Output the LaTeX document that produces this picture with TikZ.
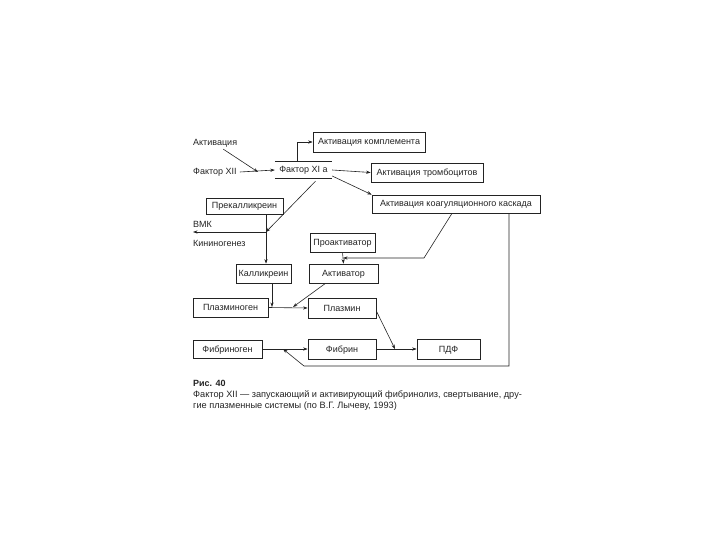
\documentclass[tikz,border=0pt]{standalone}
\usepackage{fontspec}
\setmainfont{Liberation Sans}
\usetikzlibrary{arrows.meta}
\definecolor{ink}{RGB}{35,35,35}
\begin{document}
\begin{tikzpicture}[x=1pt,y=-1pt,
  box/.style={draw=ink,line width=0.7pt,inner sep=0pt,text height=6pt,text depth=0pt,font=\fontsize{9}{10}\selectfont,text=ink},
  lbl/.style={inner sep=0pt,text height=6pt,text depth=0pt,font=\fontsize{9}{10}\selectfont,text=ink},
  con/.style={draw=ink,line width=0.6pt,-{Stealth[length=4.5pt,width=3.2pt]}},
  ln/.style={draw=ink,line width=0.6pt}]
\useasboundingbox (0,0) rectangle (720,540);
% nodes
\node[lbl,anchor=west] (akt) at (193,143) {Активация};
\node[lbl,anchor=west] (f12) at (193,172) {Фактор XII};
\node[lbl,minimum width=57pt,minimum height=16pt] (xia) at (303.5,170) {Фактор XI а};
\draw[ink,line width=0.7pt] (xia.north west) -- (xia.north east) (xia.south west) -- (xia.south east);
\node[box,minimum width=112pt,minimum height=20pt] (kompl) at (369,142) {Активация комплемента};
\node[box,minimum width=112pt,minimum height=19pt] (tromb) at (427,172.5) {Активация тромбоцитов};
\node[box,minimum width=168pt,minimum height=18pt] (kask) at (456,204) {Активация коагуляционного каскада};
\node[box,minimum width=77pt,minimum height=16pt] (prek) at (244.5,206) {Прекалликреин};
\node[lbl,anchor=west] (vmk) at (193,225) {ВМК};
\node[lbl,anchor=west] (kin) at (193,244) {Кининогенез};
\node[box,minimum width=65pt,minimum height=19pt] (proakt) at (342.5,242.5) {Проактиватор};
\node[box,minimum width=55pt,minimum height=19pt] (kall) at (263.5,273.5) {Калликреин};
\node[box,minimum width=69pt,minimum height=19pt] (aktv) at (343.5,273.5) {Активатор};
\node[box,minimum width=75pt,minimum height=19pt] (plg) at (230.5,307.5) {Плазминоген};
\node[box,minimum width=68pt,minimum height=20pt] (pl) at (342,308) {Плазмин};
\node[box,minimum width=69pt,minimum height=18pt] (fbg) at (227.5,349) {Фибриноген};
\node[box,minimum width=68pt,minimum height=20pt] (fb) at (342,349) {Фибрин};
\node[box,minimum width=63pt,minimum height=20pt] (pdf) at (448.5,349) {ПДФ};
% caption
\node[lbl,anchor=west,font=\fontsize{9}{10}\selectfont\bfseries] (cap1) at (193,383) {Рис. 40};
\node[anchor=north west,inner sep=0pt,align=left,text=ink,font=\fontsize{9.2}{11}\selectfont] (cap2) at (193,390) {Фактор XII — запускающий и активирующий фибринолиз, свертывание, дру-\\гие плазменные системы (по В.Г. Лычеву, 1993)};
% coordinates
\coordinate (m1) at (258,172);
\coordinate (c1) at (297,142);
\coordinate (vm) at (266,232);
\coordinate (km) at (424,258);
\coordinate (pa) at (343,258);
\coordinate (kp) at (272,307);
\coordinate (ap) at (293,307);
\coordinate (pp) at (395,349);
\coordinate (rb) at (509,366);
\coordinate (lb) at (304,366);
\coordinate (fp) at (283,349);
% connectors
\draw[con] (akt.south east) ++(-14,3) -- (m1);
\draw[con] (f12.east) ++(3,0) -- (xia.west);
\draw[con] (xia.north -| c1) -- (c1) -- (kompl.west);
\draw[con] (xia.east) -- (tromb.west);
\draw[con] (xia.east) ++(0,6) -- (kask.north west);
\draw[con] (xia.south) ++(12,3) -- (vm);
\draw[ln] (prek.south -| vm) -- (vm);
\draw[con] (vm) -- (vmk.south west |- vm);
\draw[con] (vm) -- (vm |- kall.north);
\draw[con] (kask.south) ++(-4,0) -- (km) -- (pa);
\draw[con] (proakt.south) -- (aktv.north);
\draw[con] (plg.east) -- (pl.west);
\draw[con] (kall.south -| kp) -- (kp);
\draw[con] (aktv.south) ++(-18,0) -- (ap);
\draw[con] (pl.east) ++(0,3) -- (pp);
\draw[con] (fbg.east) -- (fb.west);
\draw[con] (fb.east) -- (pdf.west);
\draw[con] (kask.south -| rb) -- (rb) -- (lb) -- (fp);
\end{tikzpicture}
\end{document}
